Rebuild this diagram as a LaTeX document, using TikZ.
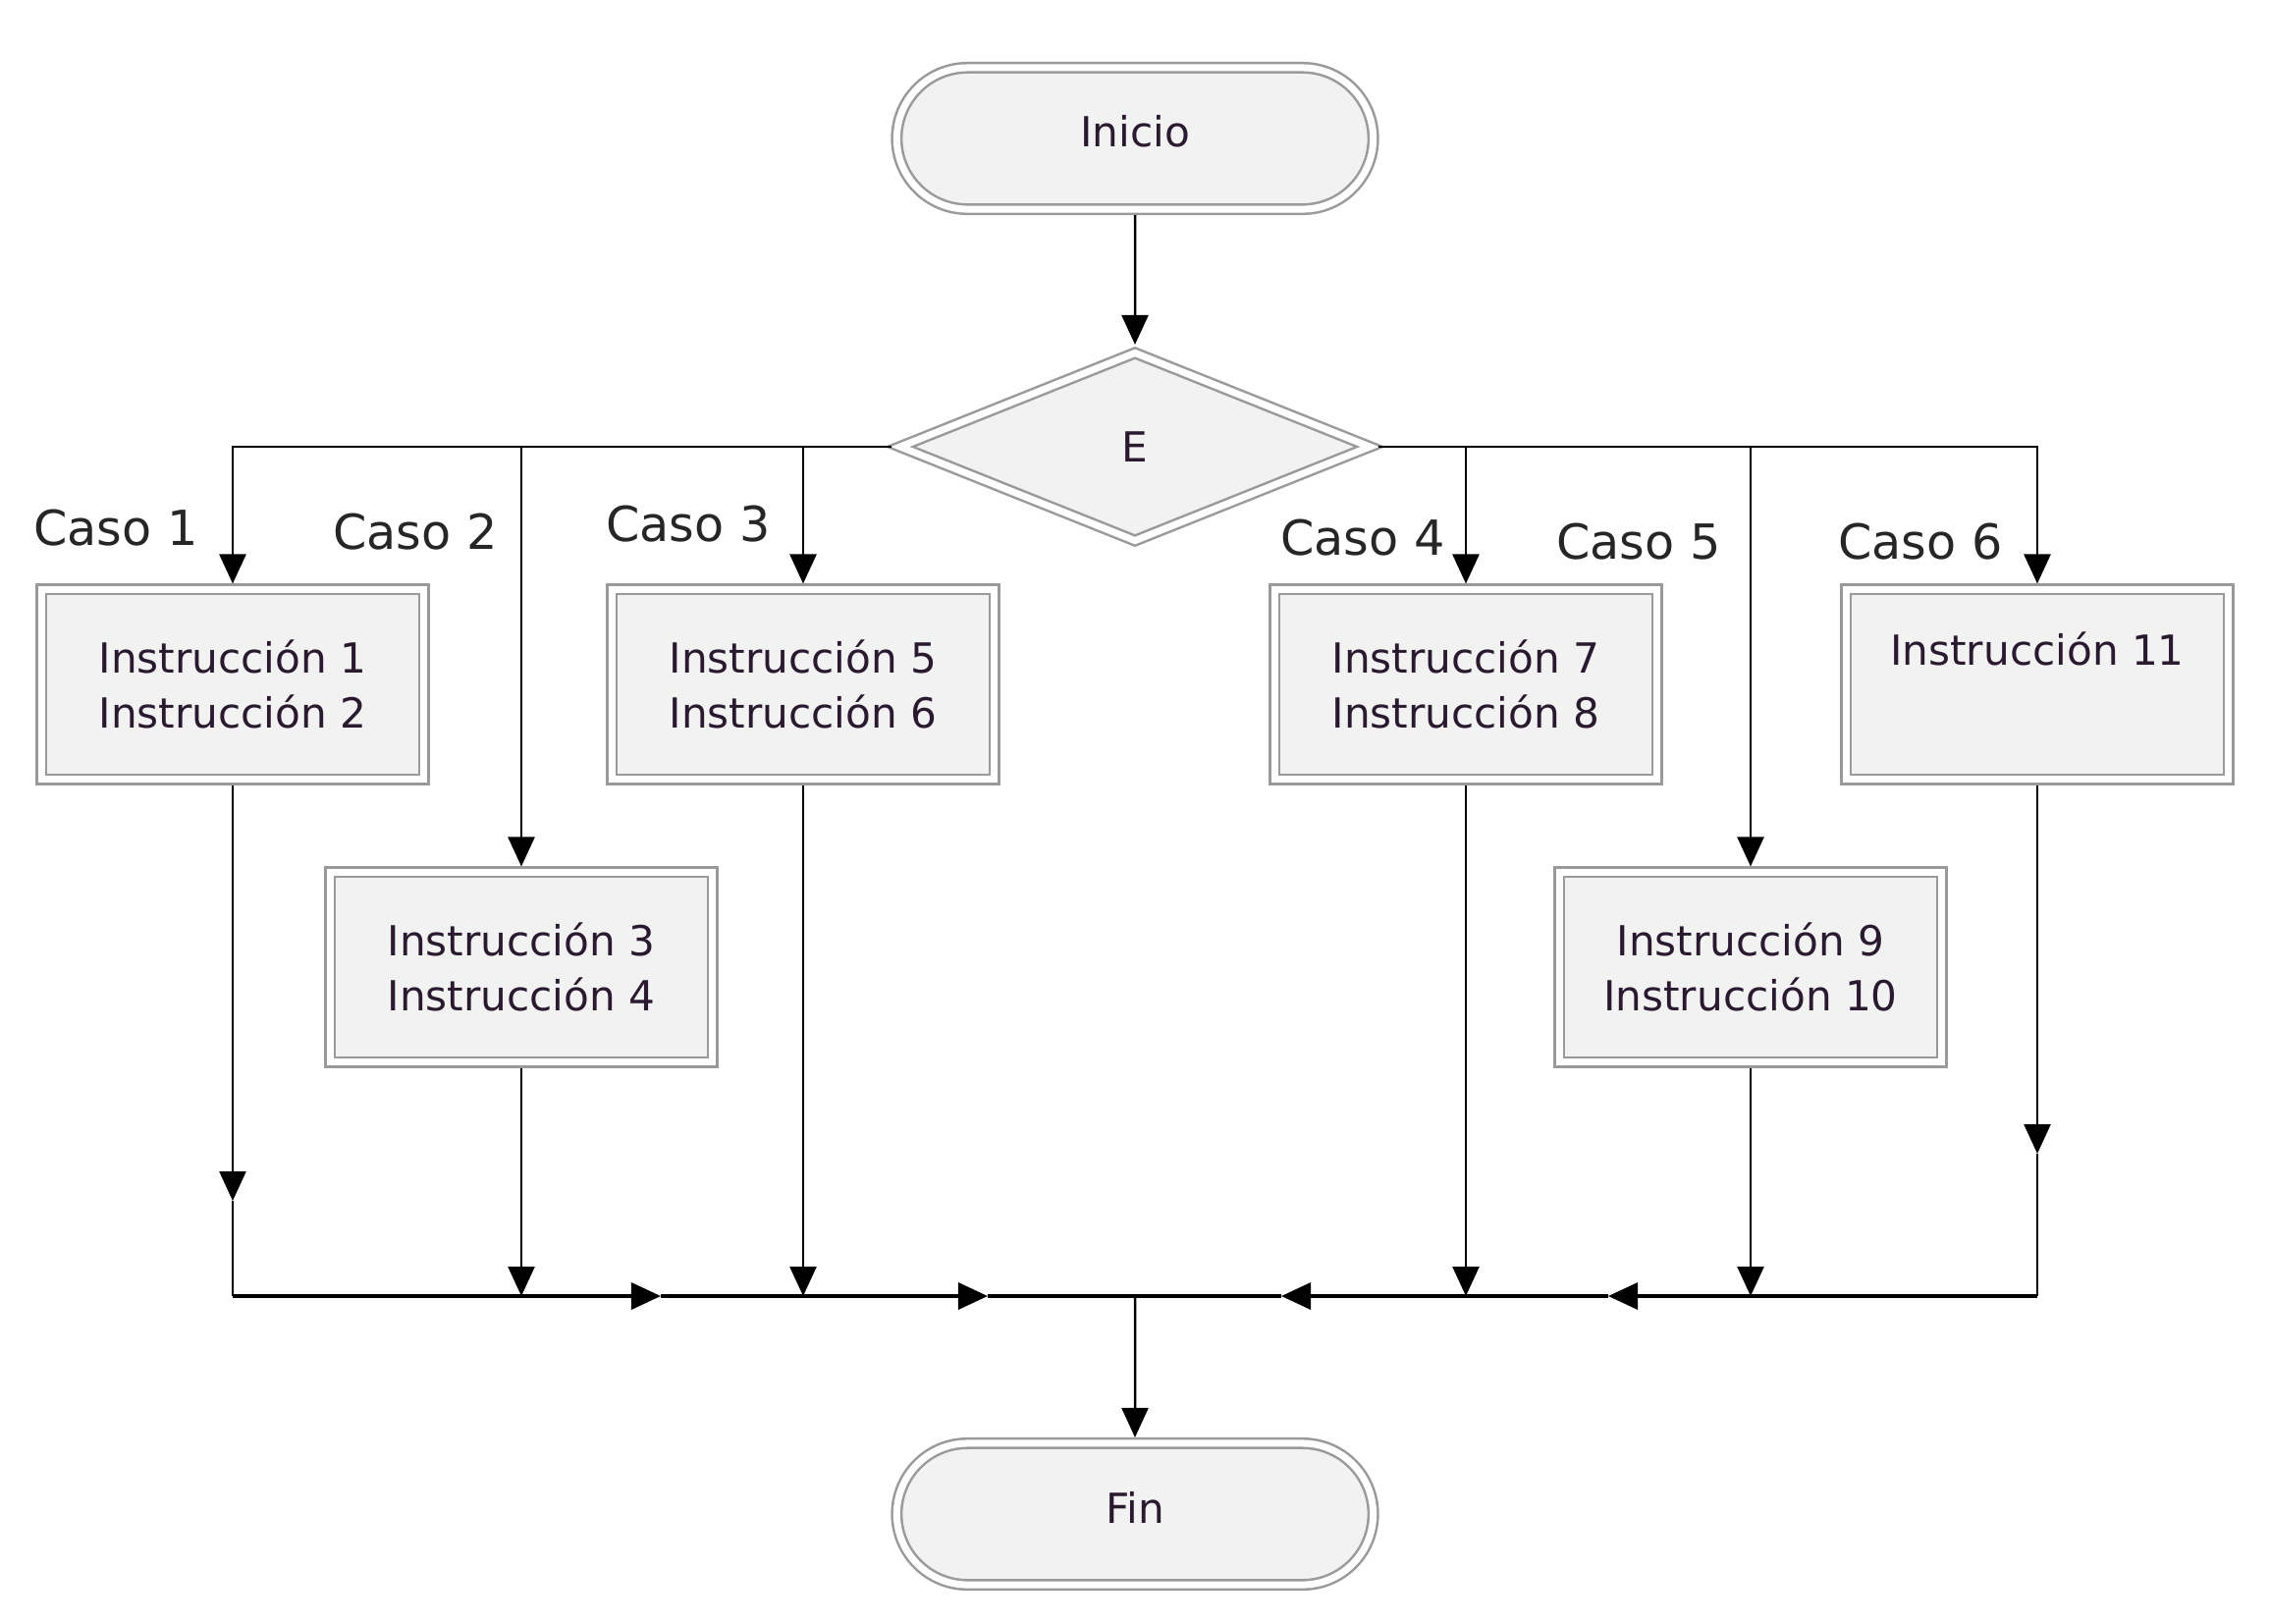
\documentclass[tikz,border=0pt]{standalone}
\usepackage{fontspec}
\setmainfont{DejaVu Sans}
\usetikzlibrary{shapes.geometric,shapes.misc,arrows.meta}
\definecolor{fillg}{HTML}{F2F2F2}
\definecolor{edgeg}{HTML}{9A9A9A}
\definecolor{txt}{HTML}{2A1A30}
\begin{document}
\begin{tikzpicture}[x=0.01cm,y=-0.01cm,
  dbl/.style={draw=edgeg, line width=0.025cm, double=white, double distance=0.07cm, fill=fillg, outer sep=0.06cm},
  term/.style={dbl, rounded rectangle, minimum width=4.85cm, minimum height=1.44cm, inner sep=0pt, font=\fontsize{12}{16}\selectfont, text=txt},
  decis/.style={dbl, diamond, minimum width=4.83cm, minimum height=1.96cm, inner sep=0pt, font=\fontsize{12}{16}\selectfont, text=txt},
  instr/.style={dbl, rectangle, minimum width=3.89cm, minimum height=1.93cm, inner sep=0pt, align=center, font=\fontsize{12}{16}\selectfont, text=txt},
  caso/.style={font=\fontsize{14}{16}\selectfont, text=black!85, inner sep=0pt},
  conn/.style={draw=black, line width=0.025cm},
  arr/.style={conn, -{Triangle[length=0.3cm, width=0.27cm]}},
  botline/.style={line width=0.035cm}
]
\path[use as bounding box, fill=white] (0,0) rectangle (2311,1653);

\node[term] (ini) at (1156,141) {\raisebox{0.16cm}{Inicio}};
\node[decis] (dec) at (1156,455) {E};
\node[instr] (b1) at (237,697) {Instrucción 1\\Instrucción 2};
\node[instr] (b2) at (531,985) {Instrucción 3\\Instrucción 4};
\node[instr] (b3) at (818,697) {Instrucción 5\\Instrucción 6};
\node[instr] (b4) at (1493,697) {Instrucción 7\\Instrucción 8};
\node[instr] (b5) at (1783,985) {Instrucción 9\\Instrucción 10};
\node[instr] (b6) at (2075,697) {Instrucción 11\\\strut};
\node[term] (fin) at (1156,1542) {\raisebox{0.14cm}{Fin}};

\node[caso] (c1) at (118,538) {Caso 1};
\node[caso] (c2) at (423,542) {Caso 2};
\node[caso] (c3) at (701,534) {Caso 3};
\node[caso] (c4) at (1388,548) {Caso 4};
\node[caso] (c5) at (1669,552) {Caso 5};
\node[caso] (c6) at (1956,552) {Caso 6};

\coordinate (m1) at (237,1223);
\coordinate (m6) at (2075,1175);
\coordinate (j1) at (237,1320);
\coordinate (j2) at (531,1320);
\coordinate (j3) at (818,1320);
\coordinate (j4) at (1493,1320);
\coordinate (j5) at (1783,1320);
\coordinate (j6) at (2075,1320);
\coordinate (jc) at (1156,1320);
\coordinate (h1) at (673,1320);
\coordinate (h2) at (1006,1320);
\coordinate (h3) at (1305,1320);
\coordinate (h4) at (1638,1320);

\draw[arr] (ini) -- (dec);
\draw[arr] (dec.west) -| (b1.north);
\draw[arr] (dec.west) -| (b2.north);
\draw[arr] (dec.west) -| (b3.north);
\draw[arr] (dec.east) -| (b4.north);
\draw[arr] (dec.east) -| (b5.north);
\draw[arr] (dec.east) -| (b6.north);

\draw[arr] (b1.south) -- (m1);
\draw[conn] (m1) -- (j1);
\draw[arr] (b2.south) -- (j2);
\draw[arr] (b3.south) -- (j3);
\draw[arr] (b4.south) -- (j4);
\draw[arr] (b5.south) -- (j5);
\draw[arr] (b6.south) -- (m6);
\draw[conn] (m6) -- (j6);

\draw[arr,botline] (j1) -- (h1);
\draw[arr,botline] (h1) -- (h2);
\draw[conn,botline] (h2) -- (jc);
\draw[arr,botline] (j6) -- (h4);
\draw[arr,botline] (h4) -- (h3);
\draw[conn,botline] (h3) -- (jc);
\draw[arr] (jc) -- (fin);
\end{tikzpicture}
\end{document}
